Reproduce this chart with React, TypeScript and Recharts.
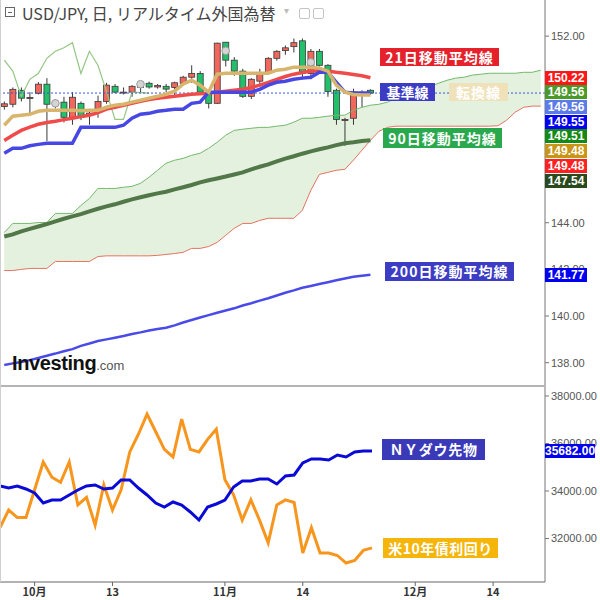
import { ComposedChart, Line, Area, Bar, XAxis, YAxis, ReferenceLine } from "recharts"

// trading-day index: 0 = 9/26 ... 43 = 11/24, after that only the leading spans (to ~12/22)
const N_DAYS = 64
const TICK_IDX = [4, 13, 26, 35, 48, 57]
const TICK_LABELS = ["10月", "13", "11月", "14", "12月", "14"]

const OPEN = [148.98, 149.08, 149.68, 149.33, 149.55, 149.94, 149.05, 149.17, 148.52, 149.12, 148.6, 148.74, 149.2, 149.85, 149.58, 149.6, 149.8, 149.98, 149.82, 149.85, 149.8, 149.98, 150.24, 150.4, 149.55, 149.12, 151.74, 150.97, 150.5, 149.42, 150.07, 150.4, 151.05, 151.38, 151.55, 151.8, 150.4, 151.35, 150.75, 149.68, 148.38, 148.48, 149.55, 149.68]
const HIGH = [149.2, 149.8, 149.8, 149.6, 150.03, 150.2, 149.3, 149.4, 149.6, 149.2, 148.8, 149.45, 150.0, 149.95, 149.8, 149.9, 149.95, 150.05, 149.95, 149.95, 150.05, 150.3, 150.75, 150.5, 149.7, 151.72, 151.75, 151.1, 150.6, 150.2, 150.6, 151.1, 151.4, 151.6, 151.9, 151.9, 151.45, 151.45, 150.8, 149.75, 148.5, 149.75, 149.68, 149.72]
const LOW = [148.85, 148.95, 149.2, 148.6, 149.5, 147.5, 148.9, 148.3, 148.2, 148.4, 148.2, 148.5, 149.1, 149.55, 149.5, 149.4, 149.6, 149.75, 149.75, 149.6, 149.45, 149.95, 150.0, 149.5, 148.9, 149.1, 150.7, 150.3, 149.35, 149.3, 149.9, 150.35, 150.95, 151.2, 151.3, 150.15, 150.15, 150.7, 149.4, 148.2, 147.3, 148.2, 148.95, 149.5]
const CLOSE = [149.1, 149.72, 149.34, 149.37, 149.94, 149.08, 149.12, 148.52, 149.38, 148.52, 148.7, 149.2, 149.9, 149.6, 149.6, 149.85, 149.86, 149.82, 149.88, 149.73, 150.0, 150.24, 150.4, 149.6, 149.12, 151.7, 150.97, 150.5, 149.42, 150.15, 150.4, 151.05, 151.35, 151.5, 151.72, 150.4, 151.35, 150.75, 149.63, 148.43, 148.43, 149.6, 149.58, 149.56]

const MARK_IDX = [6, 16, 26, 36]
const MARK_PRICE = [149.12, 149.94, 151.37, 150.88]

const MA21 = [147.53, 147.75, 147.96, 148.1, 148.22, 148.3, 148.35, 148.42, 148.48, 148.55, 148.61, 148.72, 148.87, 148.95, 149.04, 149.12, 149.21, 149.28, 149.34, 149.38, 149.42, 149.47, 149.51, 149.53, 149.55, 149.6, 149.64, 149.68, 149.72, 149.8, 149.9, 150.02, 150.15, 150.27, 150.37, 150.44, 150.5, 150.52, 150.5, 150.45, 150.41, 150.36, 150.3, 150.22]
const KIJUN = [146.98, 147.19, 147.19, 147.3, 147.36, 147.41, 147.41, 147.41, 147.41, 148.09, 148.09, 148.09, 148.09, 148.09, 148.18, 148.48, 148.65, 148.69, 148.78, 148.82, 148.87, 148.87, 149.12, 149.17, 149.6, 149.6, 149.6, 149.6, 149.6, 149.6, 149.72, 149.9, 150.02, 150.07, 150.15, 150.2, 150.24, 150.45, 150.45, 150.02, 149.6, 149.56, 149.56, 149.56]
const TENKAN = [148.18, 148.57, 148.61, 148.65, 148.78, 148.82, 148.82, 148.82, 148.82, 148.8, 148.82, 148.82, 148.95, 149.04, 149.08, 149.17, 149.25, 149.34, 149.42, 149.51, 149.64, 149.94, 150.11, 149.9, 149.6, 150.37, 150.41, 150.41, 150.41, 150.41, 150.41, 150.41, 150.54, 150.58, 150.67, 150.67, 150.67, 150.63, 150.5, 149.9, 149.6, 149.5, 149.48, 149.48]
const MA90 = [143.41, 143.5, 143.63, 143.74, 143.84, 143.94, 144.06, 144.17, 144.27, 144.37, 144.49, 144.6, 144.7, 144.79, 144.9, 145.0, 145.09, 145.18, 145.26, 145.33, 145.43, 145.52, 145.62, 145.73, 145.82, 145.9, 145.98, 146.07, 146.16, 146.29, 146.4, 146.5, 146.63, 146.75, 146.85, 146.96, 147.06, 147.15, 147.23, 147.33, 147.41, 147.45, 147.5, 147.54]
const MA200 = [137.9, 137.97, 138.03, 138.11, 138.2, 138.3, 138.39, 138.49, 138.58, 138.72, 138.82, 138.93, 139.0, 139.07, 139.14, 139.23, 139.3, 139.38, 139.44, 139.5, 139.6, 139.72, 139.83, 139.94, 140.04, 140.14, 140.24, 140.33, 140.45, 140.55, 140.66, 140.76, 140.88, 141.0, 141.1, 141.21, 141.29, 141.37, 141.45, 141.53, 141.61, 141.68, 141.73, 141.77]
const CHIKOU = [150.97, 150.5, 149.42, 150.15, 150.4, 151.05, 151.35, 151.5, 151.72, 150.4, 151.35, 150.75, 149.63, 148.43, 148.43, 149.6, 149.58, 149.56]
const SPAN_A = [143.58, 143.97, 143.97, 143.97, 144.01, 144.01, 144.4, 144.4, 144.4, 144.74, 145.04, 145.47, 145.47, 145.47, 145.52, 145.56, 145.69, 145.95, 146.25, 146.55, 146.68, 146.76, 146.89, 146.98, 147.19, 147.45, 147.75, 147.96, 148.01, 148.05, 148.09, 148.09, 148.14, 148.18, 148.31, 148.48, 148.48, 148.52, 148.57, 148.61, 148.61, 148.82, 148.95, 149.04, 149.08, 149.17, 149.34, 149.47, 149.6, 149.72, 149.85, 149.98, 150.11, 150.2, 150.24, 150.33, 150.37, 150.41, 150.41, 150.41, 150.41, 150.45, 150.45, 150.54]
const SPAN_B = [141.95, 141.95, 142.0, 142.04, 142.04, 142.04, 142.34, 142.34, 142.34, 142.34, 142.34, 142.55, 142.58, 142.58, 142.58, 142.58, 142.58, 142.58, 142.6, 142.64, 142.68, 142.73, 142.9, 142.9, 142.98, 143.16, 143.46, 143.76, 143.97, 143.97, 144.1, 144.19, 144.19, 144.19, 144.19, 144.53, 145.39, 146.07, 146.16, 146.25, 146.29, 146.68, 147.11, 147.53, 147.92, 148.09, 148.14, 148.14, 148.14, 148.14, 148.14, 148.14, 148.14, 148.14, 148.14, 148.14, 148.14, 148.14, 148.16, 148.4, 148.74, 148.95, 149.0, 149.0]

const DOW = [34211, 34126, 34211, 34084, 33916, 33495, 33621, 33621, 33832, 34042, 34211, 34253, 34084, 34126, 34463, 34463, 34126, 33832, 33495, 33326, 33537, 33411, 33116, 32779, 33326, 33453, 33621, 34168, 34421, 34421, 34505, 34505, 34295, 34632, 34674, 35179, 35347, 35347, 35305, 35516, 35432, 35642, 35684, 35682]
const YIELD = [4.54, 4.61, 4.58, 4.58, 4.69, 4.8, 4.74, 4.72, 4.8, 4.63, 4.66, 4.55, 4.71, 4.61, 4.69, 4.84, 4.91, 4.99, 4.92, 4.85, 4.82, 4.97, 4.85, 4.84, 4.89, 4.93, 4.73, 4.67, 4.57, 4.65, 4.57, 4.48, 4.63, 4.65, 4.64, 4.44, 4.54, 4.44, 4.44, 4.43, 4.4, 4.41, 4.45, 4.46]

// 146/148/150 sit entirely under the value tags in the original, so they are left out
const PRICE_TICKS = [138, 140, 142, 144, 152]
const DOW_TICKS = [32000, 34000, 36000, 38000]
const CURRENT = 149.56
const PRICE_TAGS = ["150.22", "149.56", "149.56", "149.55", "149.51", "149.48", "149.48", "147.54"]
const MA200_LAST = 141.77
const DOW_LAST = 35682

const PRICE_DOMAIN = [137, 153.55]
const DOW_DOMAIN = [30168, 38421]
const YIELD_DOMAIN = [4.325, 5.101]

const TAG_COLORS = ["#ff1616", "#4a9a2a", "#5b7be8", "#0000f5", "#148a14", "#c99518", "#ff2020", "#2a4a1e"]
const UP = "#f2675c"
const DOWN = "#22c06a"
const NUM_FONT = "'Liberation Sans', Arial, sans-serif"
const JP_FONT = "'Noto Sans CJK JP', 'Noto Sans', sans-serif"

const TOP_H = 386
const BOT_H = 214
const BOT_PLOT_H = 196
const AXIS_W = 55
const PLOT_W = 545

const topData = Array.from({ length: N_DAYS }, (_, i) => ({
  i,
  o: OPEN[i],
  h: HIGH[i],
  l: LOW[i],
  c: CLOSE[i],
  hl: i < CLOSE.length ? [LOW[i], HIGH[i]] : undefined,
  mk: MARK_IDX.includes(i) ? MARK_PRICE[MARK_IDX.indexOf(i)] : undefined,
  ma21: MA21[i],
  kijun: KIJUN[i],
  tenkan: TENKAN[i],
  ma90: MA90[i],
  ma200: MA200[i],
  chikou: CHIKOU[i],
  spanA: SPAN_A[i],
  spanB: SPAN_B[i],
  cloud: [SPAN_B[i], SPAN_A[i]],
}))

const botData = Array.from({ length: N_DAYS }, (_, i) => ({ i, dow: DOW[i], yld: YIELD[i] }))

const tickLabel = (v: number) => TICK_LABELS[TICK_IDX.indexOf(v)] ?? ""
const priceY = (v: number) => ((PRICE_DOMAIN[1] - v) / (PRICE_DOMAIN[1] - PRICE_DOMAIN[0])) * TOP_H
const dowY = (v: number) => TOP_H + ((DOW_DOMAIN[1] - v) / (DOW_DOMAIN[1] - DOW_DOMAIN[0])) * BOT_PLOT_H

function Candle(props: any) {
  const { x, y, width, height, payload } = props
  if (!payload || payload.o == null || !Number.isFinite(y)) return <g />
  const { o, h, l, c } = payload
  const top = Math.min(y, y + height)
  const bot = Math.max(y, y + height)
  const per = (bot - top) / (h - l)
  const at = (v: number) => top + (h - v) * per
  const cx = x + width / 2
  const bTop = at(Math.max(o, c))
  const bBot = at(Math.min(o, c))
  return (
    <g>
      <line x1={cx} x2={cx} y1={top} y2={bot} stroke="#3a3a3a" strokeWidth={1} />
      <rect x={cx - 3} y={bTop} width={6} height={Math.max(1, bBot - bTop)} fill={c >= o ? UP : DOWN} stroke="#3a3a3a" strokeWidth={0.8} />
    </g>
  )
}

function Mark(props: any) {
  const { cx, cy } = props
  if (cy == null || !Number.isFinite(cy)) return <g key={props.index} />
  return <circle key={props.index} cx={cx} cy={cy} r={3.8} fill="#d4d4d4" stroke="#9a9a9a" strokeWidth={1} />
}

function Tag({ top, bg, text, w = 42 }: { top: number; bg: string; text: string; w?: number }) {
  return (
    <div style={{ position: "absolute", left: PLOT_W, top, width: w, height: 14, background: bg, color: "#fff", fontFamily: NUM_FONT, fontSize: 12, fontWeight: "bold", lineHeight: "14px", textAlign: "center" }}>
      {text}
    </div>
  )
}

function Callout(p: { left: number; top: number; w: number; h: number; bg: string; text: string; ls: number; color?: string }) {
  return (
    <div style={{ position: "absolute", left: p.left, top: p.top, width: p.w, height: p.h, background: p.bg, color: p.color ?? "#fff", fontFamily: JP_FONT, fontWeight: "bold", fontSize: 14, letterSpacing: p.ls, lineHeight: `${p.h}px`, textAlign: "center", whiteSpace: "nowrap" }}>
      {p.text}
    </div>
  )
}

export default function App() {
  const tagTop = priceY(Number(PRICE_TAGS[0])) - 7
  return (
    <div style={{ position: "absolute", left: 0, top: 0, width: 600, height: 600, background: "#fff", overflow: "hidden" }}>
      <div style={{ position: "absolute", left: 0, top: 0 }}>
        <ComposedChart width={600} height={TOP_H} data={topData} margin={{ top: 0, right: 0, bottom: 0, left: 0 }}>
          <XAxis dataKey="i" hide />
          <YAxis
            orientation="right"
            width={AXIS_W}
            domain={PRICE_DOMAIN}
            allowDataOverflow
            ticks={PRICE_TICKS}
            tickFormatter={(v: number) => v.toFixed(2)}
            tick={{ fontSize: 11, fill: "#555", fontFamily: NUM_FONT }}
            tickSize={4}
            axisLine={{ stroke: "#777" }}
            tickLine={{ stroke: "#777" }}
          />
          <Area dataKey="cloud" type="linear" stroke="none" fill="#e3f1de" fillOpacity={1} isAnimationActive={false} />
          <Line dataKey="spanA" type="linear" stroke="#74b96c" strokeWidth={1} dot={false} isAnimationActive={false} />
          <Line dataKey="spanB" type="linear" stroke="#e5735f" strokeWidth={1} dot={false} isAnimationActive={false} />
          <Line dataKey="chikou" type="linear" stroke="#93c784" strokeWidth={1.2} dot={false} isAnimationActive={false} />
          <ReferenceLine y={CURRENT} stroke="#3658cc" strokeDasharray="2 2" strokeWidth={1} />
          <Line dataKey="ma200" type="linear" stroke="#4a4ae8" strokeWidth={2.5} dot={false} isAnimationActive={false} />
          <Line dataKey="ma90" type="linear" stroke="#52784a" strokeWidth={4} dot={false} isAnimationActive={false} />
          <Line dataKey="ma21" type="linear" stroke="#f04b4b" strokeWidth={3.5} dot={false} isAnimationActive={false} />
          <Line dataKey="kijun" type="linear" stroke="#4747e4" strokeWidth={3.5} dot={false} isAnimationActive={false} />
          <Line dataKey="tenkan" type="linear" stroke="#d8b56c" strokeWidth={3.5} dot={false} isAnimationActive={false} />
          <Bar dataKey="hl" shape={<Candle />} isAnimationActive={false} />
          <Line dataKey="mk" stroke="none" dot={<Mark />} activeDot={false} isAnimationActive={false} />
        </ComposedChart>
      </div>

      <div style={{ position: "absolute", left: 0, top: TOP_H }}>
        <ComposedChart width={600} height={BOT_H} data={botData} margin={{ top: 0, right: 0, bottom: 0, left: 0 }}>
          <XAxis
            dataKey="i"
            ticks={TICK_IDX}
            interval={0}
            tickFormatter={tickLabel}
            height={BOT_H - BOT_PLOT_H}
            tickSize={4}
            tick={{ fontSize: 11, fill: "#333", fontWeight: "bold", fontFamily: JP_FONT }}
            axisLine={{ stroke: "#666" }}
            tickLine={{ stroke: "#666" }}
          />
          <YAxis
            orientation="right"
            width={AXIS_W}
            domain={DOW_DOMAIN}
            allowDataOverflow
            ticks={DOW_TICKS}
            tickFormatter={(v: number) => v.toFixed(2)}
            tick={{ fontSize: 11, fill: "#555", fontFamily: NUM_FONT }}
            tickSize={4}
            axisLine={{ stroke: "#777" }}
            tickLine={{ stroke: "#777" }}
          />
          <YAxis yAxisId="yld" hide domain={YIELD_DOMAIN} allowDataOverflow />
          <Line yAxisId="yld" dataKey="yld" type="linear" stroke="#f7951d" strokeWidth={3} dot={false} isAnimationActive={false} />
          <Line dataKey="dow" type="linear" stroke="#0a0ad6" strokeWidth={3} dot={false} isAnimationActive={false} />
        </ComposedChart>
      </div>

      {/* frame */}
      <div style={{ position: "absolute", left: 0, top: TOP_H - 1, width: PLOT_W, height: 2, background: "#b4b4b4" }} />
      <div style={{ position: "absolute", left: 0, top: 0, width: 1, height: TOP_H + BOT_PLOT_H, background: "#d0d0d0" }} />

      {/* title */}
      <div style={{ position: "absolute", left: 5, top: 7, width: 10, height: 10, border: "1px solid #666", boxSizing: "border-box" }}>
        <div style={{ position: "absolute", left: 2, top: 3.5, width: 4, height: 1, background: "#666" }} />
      </div>
      <div style={{ position: "absolute", left: 22, top: 2, fontFamily: JP_FONT, fontSize: 16, color: "#444", lineHeight: "22px", whiteSpace: "nowrap" }}>
        USD/JPY, 日, リアルタイム外国為替
      </div>
      <div style={{ position: "absolute", left: 284, top: 5, fontSize: 10, color: "#bbb", fontFamily: NUM_FONT }}>▾</div>
      <div style={{ position: "absolute", left: 299, top: 8, width: 9, height: 9, border: "1px solid #c4c4c4", borderRadius: 2 }} />
      <div style={{ position: "absolute", left: 313, top: 8, width: 9, height: 9, border: "1px solid #c4c4c4", borderRadius: 2 }} />

      {/* logo */}
      <div style={{ position: "absolute", left: 12, top: 352, fontFamily: NUM_FONT, whiteSpace: "nowrap", lineHeight: "22px" }}>
        <span style={{ fontSize: 20, fontWeight: 900, color: "#111", letterSpacing: -0.4 }}>Investing</span>
        <span style={{ fontSize: 13, color: "#555" }}>.com</span>
      </div>

      {/* price tags */}
      {PRICE_TAGS.map((t, k) => (
        <Tag key={k} top={tagTop + k * 14.7} bg={TAG_COLORS[k]} text={t} />
      ))}
      <Tag top={priceY(MA200_LAST) - 7} bg="#0000f0" text={MA200_LAST.toFixed(2)} />
      <Tag top={dowY(DOW_LAST) - 7} bg="#0000ee" text={DOW_LAST.toFixed(2)} w={50} />

      {/* callouts */}
      <Callout left={380} top={48} w={119} h={18} bg="#e5212b" text="21日移動平均線" ls={1} />
      <Callout left={380} top={83} w={55} h={18} bg="#3b3bc6" text="基準線" ls={0} />
      <Callout left={449} top={83} w={59} h={18} bg="#efe2bb" text="転換線" ls={1} />
      <Callout left={383} top={128} w={119} h={20} bg="#2aa84d" text="90日移動平均線" ls={1} />
      <Callout left={385} top={262} w={129} h={19} bg="#3c3cc4" text="200日移動平均線" ls={1} />
      <Callout left={382} top={439} w={103} h={21} bg="#3a3ab8" text="ＮＹダウ先物" ls={0.7} />
      <Callout left={383} top={538} w={115} h={20} bg="#f5b50a" text="米10年債利回り" ls={0.5} />
    </div>
  )
}
